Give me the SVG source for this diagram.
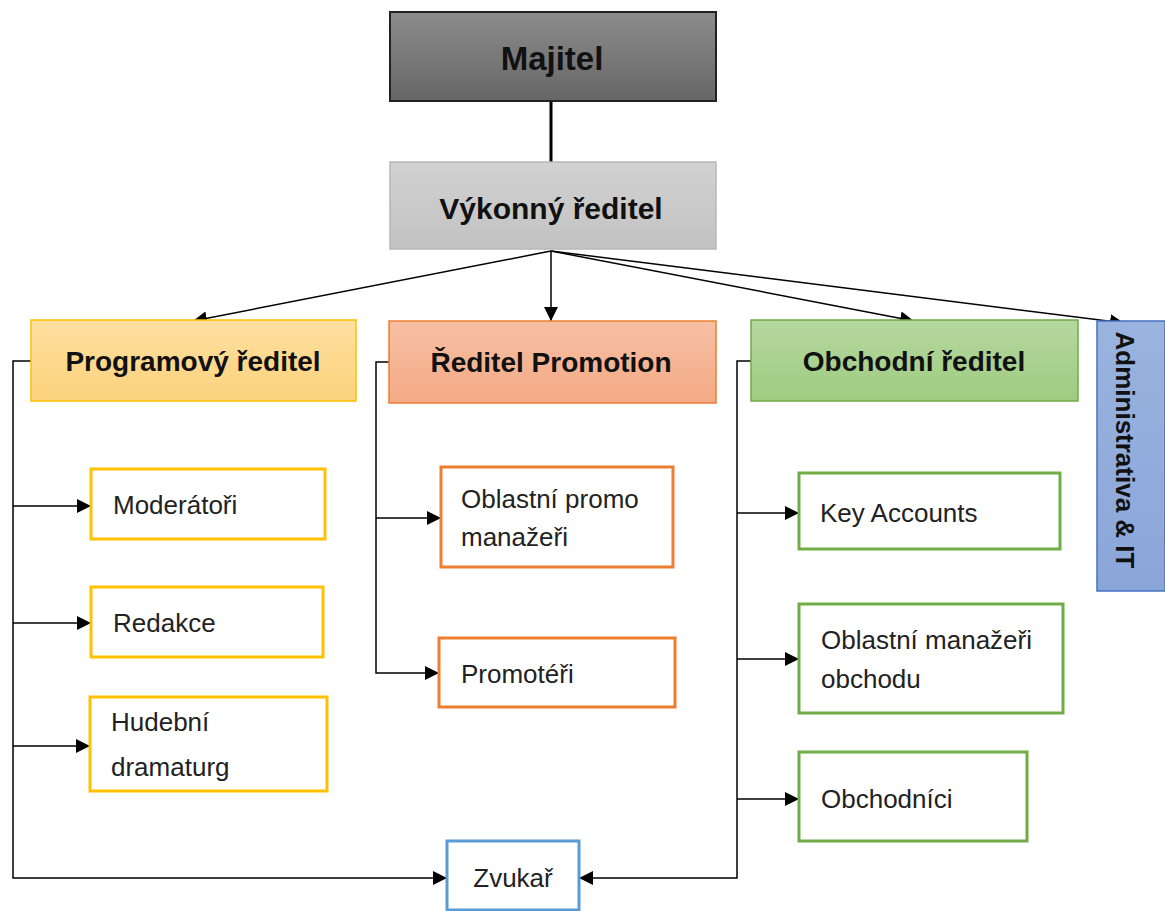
<svg xmlns="http://www.w3.org/2000/svg" width="1165" height="911" viewBox="0 0 1165 911">
<defs>
<linearGradient id="gMaj" x1="0" y1="0" x2="0" y2="1"><stop offset="0" stop-color="#8c8c8c"/><stop offset="1" stop-color="#666666"/></linearGradient>
<linearGradient id="gVyk" x1="0" y1="0" x2="0" y2="1"><stop offset="0" stop-color="#d2d2d2"/><stop offset="1" stop-color="#c2c2c2"/></linearGradient>
<linearGradient id="gProg" x1="0" y1="0" x2="0" y2="1"><stop offset="0" stop-color="#fee0a0"/><stop offset="1" stop-color="#fcd27c"/></linearGradient>
<linearGradient id="gProm" x1="0" y1="0" x2="0" y2="1"><stop offset="0" stop-color="#f7bfa3"/><stop offset="1" stop-color="#f3aa86"/></linearGradient>
<linearGradient id="gObch" x1="0" y1="0" x2="0" y2="1"><stop offset="0" stop-color="#b6d8a0"/><stop offset="1" stop-color="#9ecb80"/></linearGradient>
<linearGradient id="gAdm" x1="0" y1="0" x2="0" y2="1"><stop offset="0" stop-color="#9ab3df"/><stop offset="1" stop-color="#8aa6d9"/></linearGradient>
<marker id="arr" viewBox="0 0 10 10" refX="10" refY="5" markerWidth="10" markerHeight="10" markerUnits="userSpaceOnUse" orient="auto">
<path d="M0,0 L10,5 L0,10 z" fill="#000"/>
</marker>
<marker id="arrB" viewBox="0 0 10 10" refX="10" refY="5" markerWidth="14" markerHeight="14" markerUnits="userSpaceOnUse" orient="auto">
<path d="M0,0 L10,5 L0,10 z" fill="#000"/>
</marker>
</defs>
<style>
.hb{font-family:"Liberation Sans",Arial,sans-serif;font-weight:bold;fill:#111;text-anchor:middle;dominant-baseline:central}
.t{font-family:"Liberation Sans",Arial,sans-serif;font-size:26px;fill:#222}
.ln{fill:none;stroke:#000;stroke-width:1.5}
.y{fill:#fff;stroke:#ffc000;stroke-width:3}
.o{fill:#fff;stroke:#ed7d31;stroke-width:3}
.g{fill:#fff;stroke:#70ad47;stroke-width:3}
.b{fill:#fff;stroke:#5b9bd5;stroke-width:3}
</style>
<rect width="1165" height="911" fill="#fff"/>
<g id="connectors">
<line class="ln" x1="551" y1="101" x2="551" y2="162" style="stroke-width:3"/>
<line class="ln" x1="551" y1="251" x2="193" y2="321" marker-end="url(#arrB)"/>
<line class="ln" x1="551" y1="251" x2="551" y2="321" marker-end="url(#arrB)"/>
<line class="ln" x1="551" y1="251" x2="914" y2="321" marker-end="url(#arrB)"/>
<line class="ln" x1="551" y1="251" x2="1124" y2="323" marker-end="url(#arrB)"/>
<polyline class="ln" points="31,361 13,361 13,878 447,878" marker-end="url(#arrB)"/>
<line class="ln" x1="13" y1="506" x2="91" y2="506" marker-end="url(#arrB)"/>
<line class="ln" x1="13" y1="623" x2="91" y2="623" marker-end="url(#arrB)"/>
<line class="ln" x1="13" y1="746" x2="90" y2="746" marker-end="url(#arrB)"/>
<polyline class="ln" points="389,362 376,362 376,673 439,673" marker-end="url(#arrB)"/>
<line class="ln" x1="376" y1="518" x2="441" y2="518" marker-end="url(#arrB)"/>
<polyline class="ln" points="751,361 737,361 737,878 579,878" marker-end="url(#arrB)"/>
<line class="ln" x1="737" y1="513" x2="799" y2="513" marker-end="url(#arrB)"/>
<line class="ln" x1="737" y1="659" x2="799" y2="659" marker-end="url(#arrB)"/>
<line class="ln" x1="737" y1="799" x2="799" y2="799" marker-end="url(#arrB)"/>
</g>
<g id="majitel">
<rect x="390" y="12" width="326" height="89" fill="url(#gMaj)" stroke="#222" stroke-width="2"/>
<text class="hb" x="552" y="58" style="font-size:33px">Majitel</text>
</g>
<g id="vykonny">
<rect x="390" y="162" width="326" height="87" fill="url(#gVyk)" stroke="#b8b8b8" stroke-width="1.5"/>
<text class="hb" x="551" y="208" style="font-size:30px">Výkonný ředitel</text>
</g>
<g id="programovy">
<rect x="31" y="320" width="325" height="81" fill="url(#gProg)" stroke="#ffc000" stroke-width="1.5"/>
<text class="hb" x="193" y="361" style="font-size:28px">Programový ředitel</text>
</g>
<g id="promotion">
<rect x="389" y="321" width="327" height="82" fill="url(#gProm)" stroke="#ed7d31" stroke-width="1.5"/>
<text class="hb" x="551" y="362" style="font-size:28px">Ředitel Promotion</text>
</g>
<g id="obchodni">
<rect x="751" y="320" width="327" height="81" fill="url(#gObch)" stroke="#70ad47" stroke-width="1.5"/>
<text class="hb" x="914" y="361" style="font-size:28px">Obchodní ředitel</text>
</g>
<g id="administrativa">
<rect x="1097" y="321" width="68" height="270" fill="url(#gAdm)" stroke="#4472c4" stroke-width="1.5"/>
<text class="hb" transform="translate(1125,450) rotate(90)" x="0" y="0" style="font-size:26px">Administrativa &amp; IT</text>
</g>
<g id="moderatori">
<rect class="y" x="91" y="469" width="234" height="70"/>
<text class="t" x="113" y="514">Moderátoři</text>
</g>
<g id="redakce">
<rect class="y" x="91" y="587" width="232" height="70"/>
<text class="t" x="113" y="632">Redakce</text>
</g>
<g id="hudebni">
<rect class="y" x="90" y="697" width="237" height="94"/>
<text class="t" x="111" y="731">Hudební</text>
<text class="t" x="111" y="776">dramaturg</text>
</g>
<g id="oblastni-promo">
<rect class="o" x="441" y="467" width="232" height="100"/>
<text class="t" x="461" y="508">Oblastní promo</text>
<text class="t" x="461" y="546">manažeři</text>
</g>
<g id="promoteri">
<rect class="o" x="439" y="638" width="236" height="69"/>
<text class="t" x="461" y="683">Promotéři</text>
</g>
<g id="key-accounts">
<rect class="g" x="799" y="473" width="261" height="76"/>
<text class="t" x="820" y="522">Key Accounts</text>
</g>
<g id="oblastni-obchodu">
<rect class="g" x="799" y="604" width="264" height="109"/>
<text class="t" x="821" y="649">Oblastní manažeři</text>
<text class="t" x="821" y="688">obchodu</text>
</g>
<g id="obchodnici">
<rect class="g" x="799" y="752" width="228" height="89"/>
<text class="t" x="821" y="808">Obchodníci</text>
</g>
<g id="zvukar">
<rect class="b" x="447" y="841" width="132" height="69"/>
<text class="t" x="513" y="887" text-anchor="middle">Zvukař</text>
</g>
</svg>
